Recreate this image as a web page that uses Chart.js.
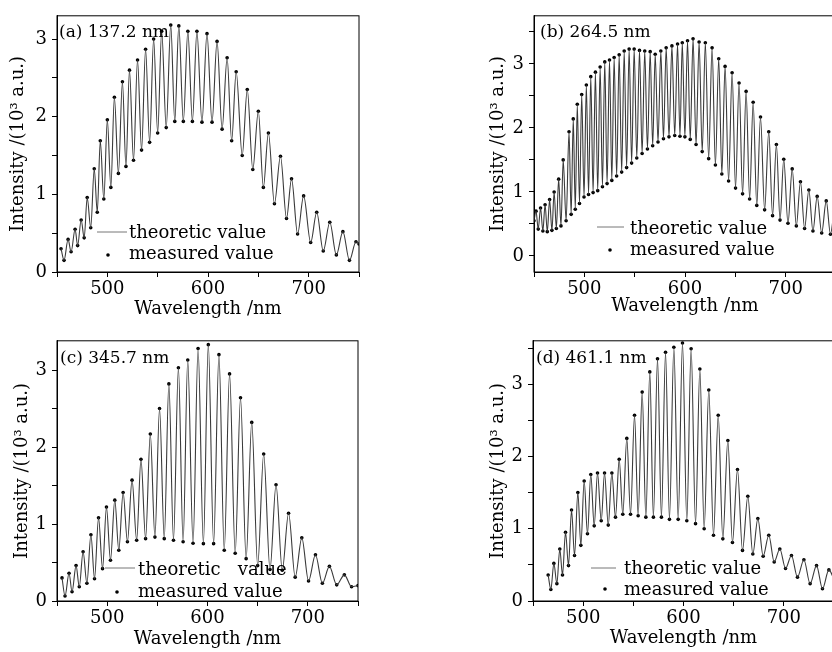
<!DOCTYPE html>
<html>
<head>
<meta charset="utf-8">
<script src="https://cdn.jsdelivr.net/npm/chart.js@4.4.0/dist/chart.umd.min.js"></script>
<style>
  html, body { margin: 0; padding: 0; background: #fff; overflow: hidden; width: 832px; height: 652px; }
  .panel { position: absolute; }
</style>
</head>
<body>
<div class="panel" id="pa"><canvas id="ca"></canvas></div>
<div class="panel" id="pb"><canvas id="cb"></canvas></div>
<div class="panel" id="pc"><canvas id="cc"></canvas></div>
<div class="panel" id="pd"><canvas id="cd"></canvas></div>
<script>
// fringe peaks and troughs (wavelength nm, intensity 10^3 a.u.)
const waveA = [454, 457, 461, 464, 468, 470.5, 474, 477, 480, 483.5, 487, 490, 493, 496.5, 500, 503.5,
  507, 511, 515, 518.5, 522, 526, 530, 534, 538, 542, 546, 550, 554, 558.5, 563, 567, 571, 575.5,
  580, 584.5, 589, 594, 599, 604, 609, 614, 619, 623.5, 628, 634, 639, 644.5, 650, 655, 660, 666,
  672, 678, 683, 689, 695, 702, 708, 714.5, 721, 727.5, 734, 740.5, 747, 750];
const intA = [0.30, 0.15, 0.42, 0.26, 0.55, 0.34, 0.67, 0.44, 0.96, 0.57, 1.33, 0.77, 1.69, 0.94, 1.96, 1.09,
  2.25, 1.27, 2.45, 1.36, 2.60, 1.44, 2.73, 1.57, 2.87, 1.67, 3.00, 1.79, 3.10, 1.86, 3.18, 1.94, 3.17, 1.94,
  3.10, 1.94, 3.10, 1.93, 3.07, 1.93, 2.97, 1.84, 2.76, 1.69, 2.58, 1.50, 2.35, 1.32, 2.07, 1.09, 1.79, 0.88,
  1.49, 0.69, 1.20, 0.49, 0.98, 0.38, 0.77, 0.27, 0.64, 0.22, 0.52, 0.15, 0.39, 0.36];

const waveB = [450, 452, 454.2, 456.5, 458.8, 461, 463.2, 465.5, 467.8, 470, 472.2, 474.5, 476.8, 479, 481.9,
  484.8, 486.9, 489, 491, 493, 495.2, 497.4, 499.7, 502, 504.2, 506.4, 508.7, 511, 513.3, 515.7, 518,
  520.3, 522.6, 525, 527.3, 529.6, 532.1, 534.6, 537.1, 539.6, 542, 544.5, 547, 549.5, 552.1, 554.8,
  557.4, 560, 562.7, 565.4, 567.9, 570.4, 573.2, 576, 578.6, 581.3, 584.1, 587, 589.8, 592.6, 595,
  597.3, 599.9, 602.5, 605.2, 608, 611, 614, 617.1, 620.2, 623.5, 626.9, 630.2, 633.5, 636.6, 639.8,
  643.3, 646.8, 650.2, 653.7, 657.2, 660.7, 664.2, 667.7, 671.3, 675, 679.1, 683.2, 687, 690.8, 694.4,
  698.1, 702.3, 706.5, 710.6, 714.7, 718.8, 723, 727.1, 731.3, 735.8, 740.3, 744.5, 748];
const intB = [0.55, 0.70, 0.42, 0.75, 0.39, 0.80, 0.38, 0.88, 0.40, 1.00, 0.43, 1.20, 0.47, 1.50, 0.55,
  1.94, 0.65, 2.14, 0.73, 2.37, 0.82, 2.52, 0.92, 2.67, 0.96, 2.80, 0.99, 2.87, 1.02, 2.95, 1.08,
  3.03, 1.13, 3.06, 1.18, 3.10, 1.25, 3.14, 1.31, 3.20, 1.38, 3.23, 1.45, 3.23, 1.53, 3.21,
  1.60, 3.20, 1.67, 3.19, 1.72, 3.15, 1.78, 3.20, 1.83, 3.25, 1.86, 3.28, 1.88, 3.31, 1.87,
  3.33, 1.86, 3.36, 1.82, 3.39, 1.74, 3.34, 1.63, 3.33, 1.52, 3.25, 1.42, 3.08, 1.28, 2.96,
  1.17, 2.86, 1.06, 2.70, 0.97, 2.57, 0.89, 2.40, 0.79, 2.17, 0.72, 1.94, 0.63, 1.74, 0.56,
  1.51, 0.51, 1.36, 0.47, 1.16, 0.43, 1.03, 0.39, 0.93, 0.36, 0.86, 0.34, 0.70];

const waveC = [455, 458, 462, 465, 469, 472.2, 476, 479.8, 483.8, 487.4, 491.4, 495.4, 499.3, 503.3, 507.6,
  511.6, 515.9, 520.2, 524.8, 529.4, 533.7, 538.3, 543, 547.6, 552.2, 556.9, 561.5, 566.1, 571, 575.7,
  580.3, 585.6, 590.6, 595.9, 600.8, 606.1, 611.4, 616.7, 622, 627.6, 632.9, 638.5, 644.1, 650, 656,
  662.3, 668.3, 674.5, 680.8, 687.4, 694, 700.7, 707.6, 714.5, 721.5, 728.8, 736.4, 743.6, 750];
const intC = [0.30, 0.065, 0.36, 0.12, 0.46, 0.185, 0.64, 0.23, 0.86, 0.29, 1.08, 0.42, 1.22, 0.53, 1.31,
  0.66, 1.41, 0.77, 1.57, 0.79, 1.84, 0.81, 2.17, 0.83, 2.50, 0.81, 2.82, 0.79, 3.03, 0.77,
  3.13, 0.75, 3.28, 0.745, 3.33, 0.745, 3.20, 0.66, 2.95, 0.62, 2.64, 0.55, 2.32, 0.46, 1.91,
  0.41, 1.51, 0.40, 1.14, 0.31, 0.82, 0.26, 0.60, 0.23, 0.45, 0.21, 0.34, 0.185, 0.20];

const waveD = [465.1, 467.8, 470.8, 473.8, 476.7, 479.4, 482.4, 485.4, 488.4, 491.4, 494.7, 497.7, 501,
  504.3, 507.6, 511, 514.3, 518, 521.3, 525, 528.6, 532.2, 535.9, 539.5, 543.5, 547.2, 551.2, 554.8,
  558.8, 562.5, 566.4, 570, 574.1, 578, 582.1, 586, 590.4, 594.7, 599, 603.3, 607.6, 612, 616.3,
  620.6, 625.2, 629.9, 634.6, 639.2, 644.2, 648.8, 653.8, 658.8, 664.1, 669.1, 674.1, 679.4, 685,
  690.4, 696, 701.7, 707.6, 713.6, 720, 726.2, 732.6, 738.5, 744.9, 750];
const intD = [0.36, 0.16, 0.52, 0.24, 0.72, 0.36, 0.95, 0.49, 1.26, 0.63, 1.50, 0.77, 1.66,
  0.93, 1.75, 1.04, 1.77, 1.11, 1.77, 1.05, 1.77, 1.16, 1.96, 1.20, 2.25, 1.20, 2.57, 1.18,
  2.89, 1.16, 3.17, 1.16, 3.35, 1.16, 3.44, 1.13, 3.51, 1.13, 3.57, 1.11, 3.49, 1.07, 3.21,
  1.00, 2.92, 0.91, 2.57, 0.86, 2.22, 0.81, 1.82, 0.70, 1.45, 0.65, 1.14, 0.62, 0.91,
  0.54, 0.72, 0.45, 0.63, 0.33, 0.57, 0.24, 0.49, 0.17, 0.43, 0.30];

const xTicks = [450, 500, 550, 600, 650, 700, 750];
const xLabels = [500, 600, 700];
const yTicks3 = [0, 0.5, 1, 1.5, 2, 2.5, 3];
const yTicks35 = [0, 0.5, 1, 1.5, 2, 2.5, 3, 3.5];
const yLabels = [0, 1, 2, 3];

const serif = '"DejaVu Serif", serif';

// frame, panel label and the little legend inside the plot
const deco = {
  id: 'deco',
  afterDatasetsDraw(chart, args, o) {
    const { ctx, chartArea: a } = chart;
    ctx.save();
    ctx.strokeStyle = '#000';
    ctx.lineWidth = 1;
    ctx.strokeRect(a.left, a.top, a.right - a.left, a.bottom - a.top);
    ctx.fillStyle = '#000';
    ctx.textBaseline = 'alphabetic';
    ctx.font = '17px ' + serif;
    ctx.fillText(o.label, a.left + o.lx, a.top + o.ly);
    ctx.font = '18px ' + serif;
    ctx.strokeStyle = '#777';
    ctx.beginPath();
    ctx.moveTo(a.left + o.l1, a.bottom - o.ly1);
    ctx.lineTo(a.left + o.l2, a.bottom - o.ly1);
    ctx.stroke();
    ctx.fillText(o.t1, a.left + o.tx, a.bottom - o.b1);
    ctx.fillText('measured value', a.left + o.tx, a.bottom - o.b2);
    ctx.beginPath();
    ctx.arc(a.left + o.dx, a.bottom - o.dy, 1.8, 0, Math.PI * 2);
    ctx.fill();
    ctx.restore();
  }
};

function makePanel(id, box, wave, inten, ymin, ymax, yTicks, deco_opts) {
  const div = document.getElementById('p' + id);
  div.style.left = box.left + 'px';
  div.style.top = box.top + 'px';
  div.style.width = box.w + 'px';
  div.style.height = box.h + 'px';
  const pts = wave.map((w, i) => ({ x: w, y: inten[i] }));
  return new Chart(document.getElementById('c' + id), {
    type: 'scatter',
    data: {
      datasets: [
        {
          label: 'theoretic value',
          data: pts,
          showLine: true,
          borderColor: '#3a3a3a',
          borderWidth: 1.1,
          pointRadius: 0,
          cubicInterpolationMode: 'monotone'
        },
        {
          label: 'measured value',
          data: pts,
          pointRadius: 1.8,
          pointBackgroundColor: '#000',
          pointBorderWidth: 0
        }
      ]
    },
    options: {
      responsive: true,
      maintainAspectRatio: false,
      animation: false,
      layout: { autoPadding: false, padding: { top: box.pt, right: box.pr, left: 0, bottom: 0 } },
      plugins: { legend: { display: false }, tooltip: { enabled: false }, deco: deco_opts },
      scales: {
        x: {
          type: 'linear', min: 450, max: 750,
          afterBuildTicks: s => { s.ticks = xTicks.map(v => ({ value: v })); },
          afterFit: s => { s.height = box.xh; },
          ticks: {
            color: '#000', padding: 2, font: { family: serif, size: 18 },
            callback: v => xLabels.includes(v) ? String(v) : ''
          },
          grid: { drawOnChartArea: false, drawTicks: true, tickLength: 5, tickColor: '#000' },
          border: { color: '#000' },
          title: { display: true, text: 'Wavelength /nm', color: '#000', font: { family: serif, size: 18 }, padding: { top: 0, bottom: 4 } }
        },
        y: {
          type: 'linear', min: ymin, max: ymax,
          afterBuildTicks: s => { s.ticks = yTicks.map(v => ({ value: v })); },
          afterFit: s => { s.width = box.yw; },
          ticks: {
            color: '#000', padding: 5, font: { family: serif, size: 18 },
            callback: v => yLabels.includes(v) ? String(v) : ''
          },
          grid: { drawOnChartArea: false, drawTicks: true, tickLength: 5, tickColor: '#000' },
          border: { color: '#000' },
          title: { display: true, text: 'Intensity /(10³ a.u.)', color: '#000', font: { family: serif, size: 18 }, padding: { top: 4, bottom: 0 } }
        }
      }
    },
    plugins: [deco]
  });
}

makePanel('a', { left: 4, top: 0, w: 359, h: 324, pt: 8, pr: 4, yw: 53, xh: 52 },
  waveA, intA, 0, 3.3, yTicks3,
  { label: '(a) 137.2 nm', lx: 2, ly: 21, l1: 40, l2: 70, ly1: 40, t1: 'theoretic value', tx: 72, b1: 34, b2: 13, dx: 51, dy: 17 });
makePanel('b', { left: 484, top: 0, w: 354, h: 321, pt: 7, pr: 2, yw: 50, xh: 49 },
  waveB, intB, -0.25, 3.75, yTicks35,
  { label: '(b) 264.5 nm', lx: 6, ly: 21, l1: 63, l2: 90, ly1: 45, t1: 'theoretic value', tx: 96, b1: 38, b2: 17, dx: 76, dy: 22 });
makePanel('c', { left: 8, top: 325, w: 354, h: 329, pt: 14, pr: 4, yw: 49, xh: 53 },
  waveC, intC, 0, 3.38, yTicks3,
  { label: '(c) 345.7 nm', lx: 3, ly: 22, l1: 48, l2: 78, ly1: 33, t1: 'theoretic   value', tx: 81, b1: 26, b2: 4, dx: 60, dy: 9 });
makePanel('d', { left: 484, top: 325, w: 352, h: 328, pt: 14, pr: 2, yw: 49, xh: 52 },
  waveD, intD, 0, 3.6, yTicks35,
  { label: '(d) 461.1 nm', lx: 3, ly: 22, l1: 58, l2: 83, ly1: 33, t1: 'theoretic value', tx: 91, b1: 27, b2: 6, dx: 72, dy: 12 });
</script>
</body>
</html>
